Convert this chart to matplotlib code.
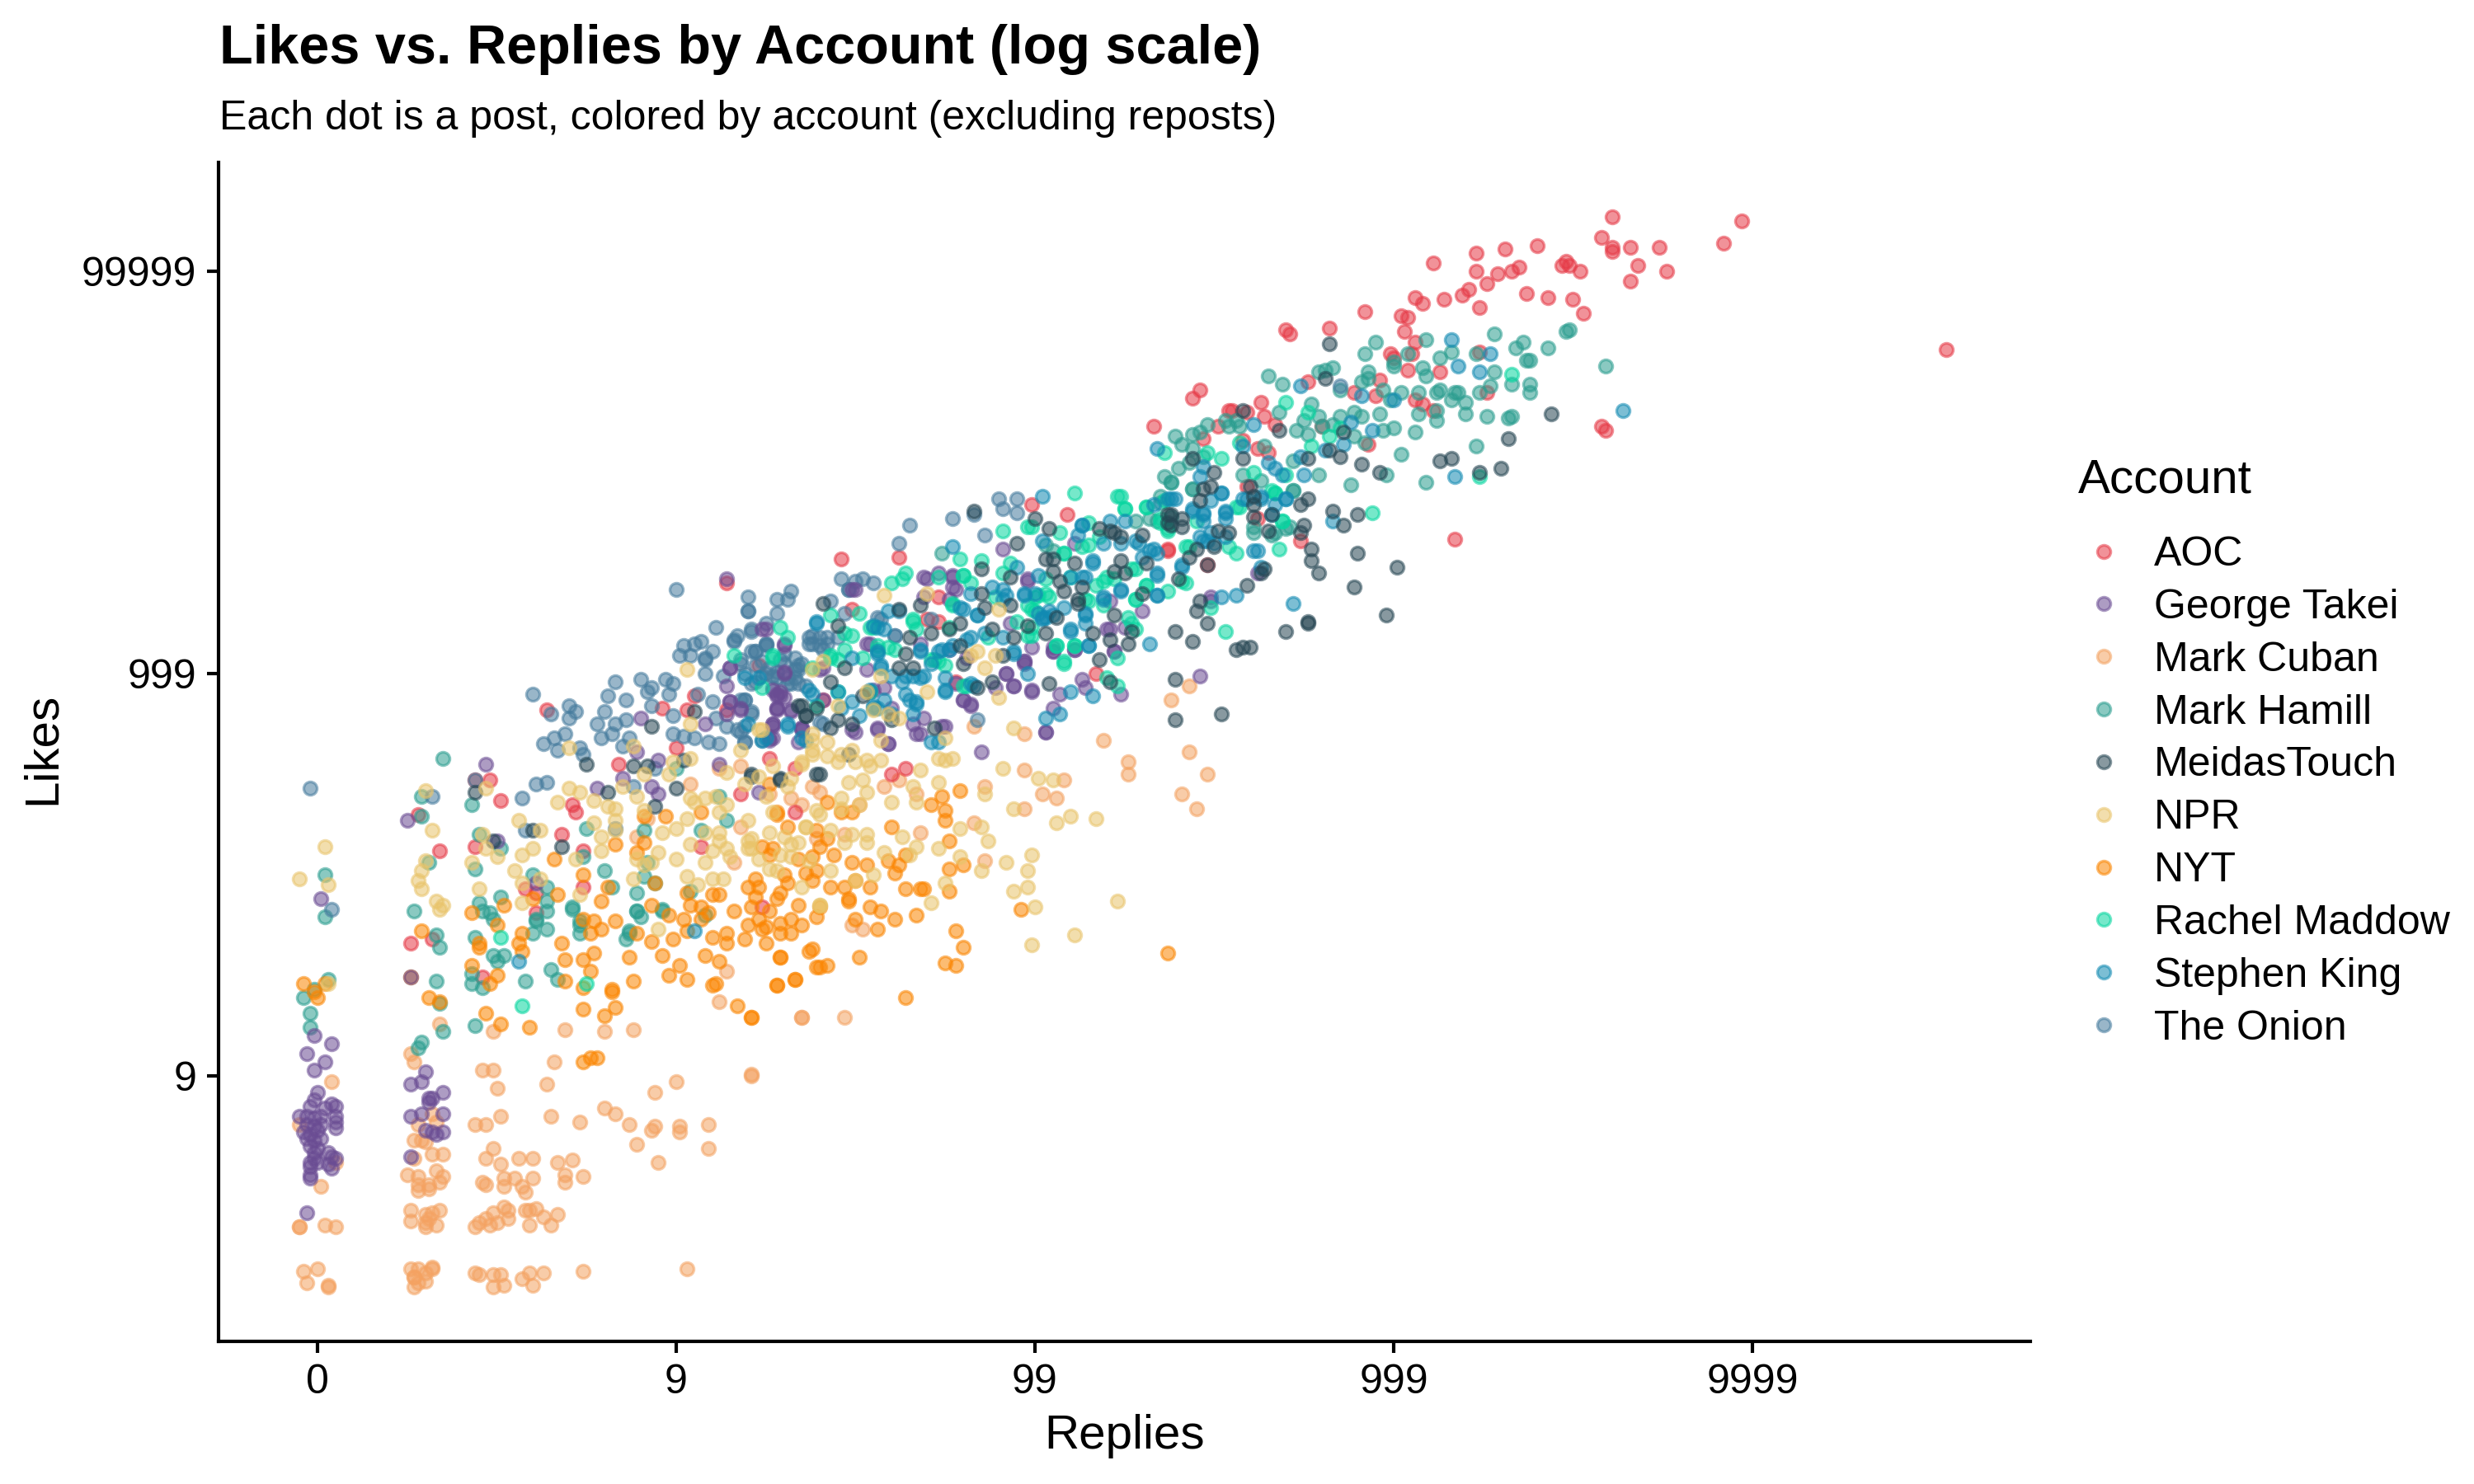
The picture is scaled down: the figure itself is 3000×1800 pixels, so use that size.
import numpy as np
import matplotlib
matplotlib.use('Agg')
import matplotlib.pyplot as plt
from matplotlib.lines import Line2D

plt.rcParams['font.family'] = ['Liberation Sans', 'DejaVu Sans']

# every point is (log10(replies + 1), log10(likes + 1))
aoc = [(3.61,5.27),(3.97,5.25),(3.58,5.17),(3.61,5.12),(3.61,5.10),(3.66,5.12),(3.74,5.12),(3.92,5.14),(3.68,5.03),(3.76,5.0),
       (3.66,4.95),(3.52,5.0),(3.49,5.03),(3.48,5.05),(3.50,4.86),(3.53,4.79),(4.54,4.61),(3.58,4.23),(3.59,4.21),
       (3.11,5.04),(3.23,5.09),(3.31,5.11),(3.40,5.13),(3.23,5.0),(3.29,4.99),(3.33,5.0),(3.35,5.02),(3.06,4.87),(3.08,4.84),(3.14,4.86),
       (3.21,4.91),(3.19,4.88),(3.26,4.94),(2.92,4.80),(3.02,4.78),(3.04,4.77),(3.03,4.70),(3.24,4.82),(3.37,4.89),(3.43,4.87),(3.47,5.03),
       (2.70,4.71),(2.71,4.69),(2.82,4.72),(2.46,4.41),(2.44,4.37),(3.06,4.65),(2.99,4.59),(3.0,4.57),(3.05,4.59),(3.04,4.51),(3.24,4.60),
       (2.76,4.45),(2.96,4.46),(2.95,4.38),(2.89,4.40),(3.06,4.36),(3.08,4.34),(3.11,4.31),(3.13,4.50),(3.26,4.40),(2.54,4.31),(2.55,4.31),
       (2.59,4.30),(2.63,4.35),(2.64,4.28),(2.51,4.23),(2.47,4.17),(2.67,4.24),(2.58,4.16),(2.62,4.12),(2.65,4.10),(2.33,4.23),(2.80,4.23),
       (2.93,4.14),(2.59,3.93),(2.62,3.77),(2.74,3.66),(2.37,3.62),(2.48,3.54),(3.17,3.67),(1.46,3.57),(1.62,3.58),(1.99,3.84),(2.09,3.79),
       (2.37,3.61),(1.73,3.38),(1.70,3.27),(1.73,3.26),(1.49,3.32),(1.23,3.04),(1.41,2.87),(1.26,2.58),(1.33,2.53),(1.60,2.50),(1.64,2.53),
       (2.17,3.0),(1.78,2.96),(1.33,2.31),(1.14,3.45),(0.64,2.82),(0.96,2.83),(1.03,2.82),(1.05,2.89),(1.14,2.82),(1.0,2.63),(0.84,2.55),
       (0.44,2.47),(0.48,2.47),(0.51,2.37),(0.71,2.35),(0.72,2.31),(0.28,2.30),(0.68,2.20),(0.44,2.14),(0.34,2.12),(0.74,2.12),(1.07,2.14),
       (1.18,2.40),(0.74,1.94),(0.58,1.93),(0.61,1.91),(0.61,1.81),(0.26,1.66),(0.32,1.68),(0.46,1.49),(1.24,1.84)]

takei = [(0.00,0.92),(-0.01,0.88),(-0.02,0.85),(0.04,0.86),(0.05,0.85),(0.02,0.84),(-0.05,0.80),(-0.03,0.80),(-0.01,0.79),(0.01,0.80),
         (0.05,0.80),(0.05,0.77),(-0.03,0.76),(-0.01,0.75),(0.01,0.76),(0.05,0.74),(-0.04,0.72),(-0.02,0.71),(0.0,0.73),(-0.03,0.69),
         (-0.01,0.68),(0.01,0.69),(-0.02,0.65),(0.0,0.64),(-0.01,0.62),(0.03,0.62),(0.04,0.60),(0.05,0.59),(-0.01,0.59),(-0.02,0.57),
         (0.0,0.57),(0.03,0.56),(0.04,0.54),(-0.02,0.55),(-0.02,0.51),(-0.02,0.49),(-0.03,0.32),
         (-0.01,1.20),(0.04,1.16),(-0.03,1.11),(0.02,1.07),(-0.01,1.03),(0.30,1.02),(0.29,0.97),(0.26,0.96),(0.35,0.92),(0.31,0.89),
         (0.32,0.89),(0.31,0.87),(0.26,0.80),(0.29,0.81),(0.35,0.81),(0.30,0.73),(0.32,0.72),(0.35,0.72),(0.33,0.71),(0.26,0.60),
         (0.26,1.49),(1.14,3.47),(2.46,2.99),(2.49,3.38),(2.30,3.31),(2.20,3.22),(2.25,3.23),(2.22,3.11),(2.05,3.11),(2.11,3.12),
         (1.99,2.91),(2.07,2.90),(2.13,2.97),(2.14,2.93),(2.24,2.90),(2.05,2.83),(2.03,2.71),(1.85,2.61),(1.97,3.06),(1.92,3.0),(1.94,2.94),
         (1.91,3.62),(1.98,3.47),(2.11,3.65),(2.21,3.36),(1.73,3.50),(1.77,3.49),(1.69,3.48),(1.78,3.42),(1.49,3.42),(1.80,2.87),(1.82,2.84),
         (1.78,2.95),(1.75,2.74),(1.68,2.70),(1.69,2.78),(1.60,2.83),(1.56,2.73),(1.59,2.65),(1.49,2.72),(1.35,2.73),(1.27,2.68),(1.27,2.75),
         (1.30,3.15),(1.25,3.22),(1.29,2.89),(1.30,3.0),(1.28,2.83),(1.41,3.03),(1.53,3.02),(1.54,2.91),(1.58,2.93),(1.76,3.12),(1.81,3.08),
         (1.93,3.25),(1.68,3.15),(1.53,3.15),(1.89,2.93),(1.24,3.22),(1.30,3.14),(1.15,3.03),(1.14,2.94),(1.30,3.01),(1.28,2.90),(1.15,2.86),
         (1.18,2.83),(1.14,2.80),(1.28,2.83),(1.32,2.81),(0.90,2.78),(1.08,2.75),(1.27,2.75),(1.35,2.73),(1.26,2.68),(0.89,2.61),(0.95,2.57),
         (1.12,2.55),(0.85,2.48),(0.78,2.43),(0.93,2.44),(1.23,2.41),(0.95,2.40),(0.47,2.55),(0.25,2.27),(0.50,2.17),(0.01,1.88),(0.61,1.96),
         (1.29,2.91),(1.27,2.92),(1.30,2.88),
         (1.50,3.42),(1.70,3.47),(1.77,3.48),(1.77,3.43),(1.69,3.38),(1.76,3.37),(1.54,3.15),(1.98,3.46),(1.99,3.13),(1.97,3.06),(1.92,3.0),
         (1.94,2.94),(1.99,2.92),(1.80,2.87),(1.82,2.85),(1.56,2.72),(1.50,2.71),(1.35,2.72),(1.34,2.66),(1.59,2.65),(1.67,2.70),(1.74,2.74),
         (1.66,2.75),(2.03,2.71),(1.55,2.92),(1.41,2.87),(1.28,2.89),(1.32,2.82),(1.27,2.74),(1.18,2.82),(1.28,2.82),(1.15,2.86),(1.15,3.03),
         (1.26,2.67),(2.05,3.13),(1.40,3.02),(2.62,3.50),(2.22,3.11),(2.21,3.22),(2.05,3.11),(2.11,3.12),(1.97,3.05),(2.49,3.36)]

cuban = [(-0.04,0.03),(0.0,0.04),(-0.03,-0.03),(0.03,-0.04),(0.03,-0.05),(0.26,0.04),(0.28,0.04),(0.32,0.05),(0.32,0.04),(0.27,0.0),
         (0.30,-0.02),(0.28,-0.03),(0.27,-0.05),(0.30,0.02),(0.27,0.0),(0.44,0.02),(0.45,0.01),(0.49,0.01),(0.51,0.01),(0.52,-0.04),(0.49,-0.05),
         (0.57,-0.01),(0.59,0.02),(0.60,-0.04),(0.63,0.02),(0.74,0.03),(1.03,0.04),(-0.05,0.25),(-0.05,0.25),(0.02,0.26),(0.05,0.25),
         (0.26,0.33),(0.26,0.28),(0.30,0.31),(0.31,0.29),(0.34,0.33),(0.30,0.25),(0.33,0.26),(0.32,0.32),(0.30,0.27),(0.44,0.25),(0.45,0.27),
         (0.47,0.29),(0.49,0.32),(0.48,0.26),(0.50,0.27),(0.52,0.35),(0.53,0.33),(0.53,0.29),(0.58,0.33),(0.59,0.33),(0.61,0.34),(0.63,0.30),
         (0.59,0.26),(0.65,0.26),(0.67,0.31),(0.01,0.45),(0.25,0.51),(0.28,0.50),(0.33,0.53),(0.35,0.50),(0.28,0.46),(0.31,0.46),(0.34,0.47),
         (0.28,0.43),(0.31,0.44),(0.46,0.47),(0.47,0.46),(0.52,0.49),(0.52,0.45),(0.55,0.49),(0.60,0.49),(0.57,0.45),(0.58,0.42),(0.69,0.47),
         (0.69,0.51),(0.74,0.50),(0.27,0.59),(0.32,0.61),(0.35,0.61),(0.27,0.68),(0.29,0.68),(0.30,0.67),(0.49,0.64),(0.47,0.59),(0.51,0.56),
         (0.56,0.59),(0.60,0.59),(0.67,0.57),(0.71,0.58),(0.89,0.66),(0.95,0.57),(1.09,0.64),(0.28,0.76),(0.33,0.77),(0.32,0.81),(0.44,0.76),
         (0.47,0.76),(0.51,0.80),(0.65,0.80),(0.73,0.77),(0.80,0.84),(0.83,0.81),(0.87,0.76),(0.93,0.73),(0.94,0.75),(1.01,0.75),(1.01,0.72),
         (1.09,0.76),(0.04,0.97),(0.46,1.03),(0.49,1.03),(0.50,0.94),(0.64,0.96),(0.66,1.07),(0.94,0.92),(1.0,0.97),(1.21,1.0),(0.26,1.11),
         (0.27,1.07),(0.34,1.26),(0.49,1.22),(0.69,1.23),(0.80,1.22),(0.88,1.23),(1.35,1.29),(1.12,1.37),(1.14,1.52),(-0.05,0.76),(0.05,0.57),
         (2.43,2.94),(2.38,2.87),(2.19,2.67),(2.43,2.61),(2.26,2.56),(2.26,2.50),(2.48,2.50),(2.41,2.40),(2.45,2.33),(1.97,2.52),(1.86,2.44),
         (2.02,2.40),(2.06,2.38),(2.08,2.47),(1.97,2.33),(1.97,2.70),(1.83,2.74),(1.58,2.44),(1.62,2.47),(1.67,2.40),(1.38,2.44),(1.40,2.41),
         (1.32,2.38),(1.51,2.35),(1.35,2.35),(1.68,2.21),(1.83,2.26),(1.86,2.07),(1.49,1.75),(1.52,1.73),(1.35,1.29),(1.47,1.29),(1.21,1.01),
         (1.47,2.20),(1.39,2.18),(1.04,2.45),(1.18,2.54),(1.12,2.53),(1.26,2.40),(1.18,2.24),(0.92,2.28),(0.89,2.19),(1.16,2.06)]

hamill = [(0.02,1.79),(-0.04,1.39),(-0.02,1.31),(-0.02,1.24),(0.03,1.48),(-0.01,1.43),(0.27,1.82),(0.33,1.70),(0.34,1.64),(0.33,1.47),
          (0.34,1.36),(0.35,1.22),(0.29,1.17),(0.28,1.14),(0.44,1.69),(0.46,1.82),(0.49,1.78),(0.49,1.60),(0.50,1.57),(0.52,1.60),(0.43,1.51),
          (0.43,1.46),(0.46,1.44),(0.44,1.25),(0.58,1.47),(0.60,1.71),(0.64,1.73),(0.65,1.53),(0.67,1.48),(0.61,1.78),(0.64,1.82),(0.71,1.83),
          (0.73,1.77),(0.73,1.71),(0.87,1.71),(0.86,1.68),(0.89,1.82),(0.90,1.79),(0.96,1.82),(0.35,2.58),(0.29,2.39),(0.29,2.29),(0.43,2.35),
          (0.45,2.20),(0.51,2.13),(0.31,2.06),(0.44,2.03),(0.02,2.0),(0.60,2.0),(0.64,1.94),(0.51,1.89),(0.45,1.86),
          (0.64,1.87),(0.48,1.81),(0.61,1.77),(0.71,1.84),(0.73,1.75),(0.80,2.02),(0.75,2.23),(0.74,2.09),(0.91,2.22),
          (0.89,1.91),(0.94,1.96),(0.96,1.83),(0.89,1.82),(0.92,2.06),(0.91,1.99),(0.82,1.94),(1.04,1.92),(1.08,1.80),(1.07,2.22),
          (1.14,2.27),(1.12,2.39),(1.0,2.53),(0.87,1.72),
          (2.95,4.65),(2.92,4.59),(3.09,4.66),(3.28,4.69),(3.36,4.65),(3.34,4.62),(3.43,4.62),(3.48,4.70),(3.59,4.53),(3.49,4.71),(3.37,4.56),
          (3.38,4.56),(3.23,4.59),(3.16,4.60),(3.13,4.57),(3.04,4.59),(3.0,4.55),(3.0,4.53),(3.08,4.52),(3.09,4.48),(3.33,4.44),(3.38,4.44),
          (3.38,4.40),(3.28,4.50),(3.24,4.40),(3.27,4.43),(2.79,4.50),(2.81,4.51),(2.83,4.52),(2.93,4.50),(2.93,4.47),(2.91,4.45),(2.65,4.48),
          (2.69,4.44),(2.85,4.41),(2.97,4.41),(2.99,4.36),(3.02,4.40),(3.07,4.40),(3.12,4.40),(3.13,4.41),(3.17,4.40),(3.18,4.40),(3.16,4.36),
          (3.20,4.35),(3.12,4.31),(3.12,4.26),(3.07,4.29),(3.20,4.29),(3.26,4.28),(3.32,4.27),(3.33,4.28),(3.06,4.20),(3.0,4.22),(2.97,4.21),
          (3.02,4.09),(3.23,4.13),(3.09,3.95),(2.98,3.99),(2.88,3.94),(2.79,3.99),(2.72,4.06),(2.77,4.34),(2.68,4.30),(2.75,4.26),(2.79,4.28),
          (2.89,4.30),(2.91,4.28),(2.96,4.29),(2.80,4.23),(2.83,4.24),(2.73,4.21),(2.76,4.19),(2.85,4.28),(2.92,4.15),(2.89,4.18),(2.39,4.18),
          (2.44,4.19),(2.46,4.20),(2.48,4.24),(2.53,4.26),(2.54,4.23),(2.57,4.23),(2.56,4.26),(2.41,4.14),(2.44,4.12),(2.64,4.13),(2.40,4.02),
          (2.43,4.05),(2.47,4.08),(2.36,3.98),(2.38,3.95),(2.58,3.99),(2.44,3.92),(2.63,3.96),(2.72,3.91),(2.35,3.85),(2.61,3.73),(2.67,3.70),
          (2.71,3.73),(1.74,3.60),(2.34,3.76),(2.38,3.78),(2.05,3.61),(2.28,3.76),(2.32,3.77),(2.38,3.95),(2.35,3.88),(2.44,3.92),(2.72,3.91),
          (2.61,3.70),(2.66,3.69),(2.70,3.72),(2.03,3.64)]

meidas = [(2.82,4.64),(2.81,4.47),(2.58,4.31),(2.68,4.21),(2.86,4.20),(3.44,4.29),(3.32,4.17),(3.13,4.06),(3.16,4.07),(3.30,4.02),(3.24,4.0),
          (2.96,4.0),(2.91,4.04),(2.82,4.11),(2.85,4.08),(2.76,4.07),(2.58,4.07),(2.44,4.07),(2.50,4.0),(2.49,3.93),(2.47,3.92),(2.46,3.86),
          (2.60,3.93),(2.61,3.84),(2.76,3.87),(2.74,3.84),(2.66,3.79),(2.61,3.78),(2.38,3.79),(2.41,3.77),(2.41,3.73),(2.38,3.74),(2.83,3.81),
          (2.90,3.79),(2.86,3.74),(2.75,3.74),(2.74,3.70),(2.65,3.71),(2.54,3.70),(2.51,3.71),(2.77,3.62),(2.77,3.56),(2.79,3.50),(2.90,3.60),
          (3.01,3.53),(2.89,3.43),(2.98,3.29),(2.76,3.26),(2.76,3.25),(2.70,3.21),(2.60,3.13),(2.58,3.13),(2.56,3.12),(2.44,3.16),(2.39,3.21),
          (2.48,3.25),(2.45,3.31),(2.46,3.36),(2.59,3.44),(2.64,3.52),(2.40,3.47),(2.50,3.63),(2.45,3.62),(2.43,3.58),(2.48,3.54),
          (1.83,3.81),(2.0,3.77),(2.04,3.72),(1.95,3.65),(2.18,3.72),(2.22,3.70),(2.24,3.68),(2.21,3.71),(2.30,3.69),(2.37,3.79),(2.37,3.75),
          (2.31,3.55),(2.24,3.56),(2.22,3.51),(2.25,3.50),
          (2.30,3.40),(2.22,3.29),(2.27,3.21),(2.26,3.15),(2.21,3.17),(2.16,3.20),
          (2.18,3.07),(2.39,2.97),(2.39,2.77),(2.52,2.80),(2.21,2.96),(2.04,2.95),(2.03,3.57),(2.05,3.57),(2.05,3.51),(2.07,3.46),(2.08,3.41),
          (2.11,3.55),(2.13,3.43),(2.12,3.37),(2.12,3.35),(2.06,3.28),(2.03,3.20),(1.98,3.24),(1.94,3.18),(1.93,3.48),(1.85,3.40),(1.86,3.33),
          (1.93,3.34),(1.85,3.52),(1.79,3.25),(1.76,3.22),(1.71,3.20),(1.65,3.18),(1.64,3.10),(1.62,3.03),(1.66,3.03),(1.79,3.14),(1.80,3.05),
          (1.88,3.22),(1.91,3.09),(1.88,2.96),(1.84,2.93),(1.68,3.34),(1.62,3.32),(1.45,3.24),(1.41,3.35),(1.47,3.03),(1.43,2.96),(1.52,2.89),
          (1.35,2.84),(1.39,2.83),(1.36,2.79),(1.43,2.73),(1.45,2.77),(1.49,2.75),(1.60,2.77),(1.72,2.73),(1.40,2.50),(1.29,2.47),(1.21,2.50),
          (1.48,2.60),(0.75,2.55),(0.92,2.54),(0.88,2.54),(1.02,2.57),(0.81,2.41),(0.94,2.34),(1.0,2.43),(0.93,2.74),(1.05,2.81),(1.34,2.84),
          (1.36,2.79),(1.29,2.48),(1.21,2.49),(1.39,2.50),(0.44,2.41),(0.60,2.22),(0.49,2.17),(0.68,2.14),(2.63,3.50),(2.61,3.88)]

npr = [(0.02,2.14),(-0.05,1.98),(0.03,1.95),(0.30,2.42),(0.32,2.22),(0.30,2.07),(0.29,2.02),(0.28,1.97),(0.29,1.93),(0.33,1.87),(0.34,1.83),
       (0.43,2.06),(0.45,1.93),(0.47,2.43),(0.46,2.20),(0.47,2.13),(0.50,2.09),(0.56,2.27),(0.62,2.22),(0.57,2.10),(0.60,2.13),(0.55,2.02),
       (0.62,1.98),(0.57,1.96),(0.57,1.86),(0.70,2.63),(0.70,2.43),(0.73,2.41),(0.67,2.36),(0.77,2.37),(0.81,2.34),(0.83,2.33),(0.77,2.26),
       (0.83,2.27),(0.83,2.22),(0.79,2.12),(0.79,2.19),(0.72,2.08),(0.73,1.90),(0.88,2.64),(0.89,2.39),(0.91,2.32),(0.91,2.50),(0.98,2.50),
       (0.85,2.44),(0.99,2.56),(1.04,2.58),(1.03,3.02),(1.04,2.75),(0.96,2.21),(1.0,2.23),(1.03,2.28),(1.04,2.38),(1.04,2.15),(0.95,2.11),
       (1.0,2.08),(0.93,2.06),(0.91,2.05),(0.89,2.08),(0.88,1.98),(1.03,1.99),(1.08,2.06),(1.10,2.12),(1.10,1.98),(1.13,1.98),(1.15,2.09),
       (1.20,2.17),(1.20,2.13),(1.26,2.21),(1.24,2.72),(1.18,2.62),(1.27,2.54),(1.14,2.51),(1.23,2.49),(1.19,2.45),(1.31,2.44),(1.32,2.48),
       (1.35,2.55),(1.38,2.60),(1.38,3.02),(1.11,2.39),(1.08,2.38),(1.05,2.36),(1.12,2.31),(1.14,2.35),(1.08,2.21),(1.12,2.21),(1.12,2.17),
       (1.14,2.13),(1.20,2.27),(1.36,2.24),(1.30,2.19),(1.32,2.15),(1.26,2.03),(1.28,2.02),(1.35,1.94),(0.95,1.73),(1.32,2.09),(1.40,1.85),
       (1.38,2.67),(1.06,1.95),(0.03,1.46),(0.35,1.85),
       (1.58,3.39),(1.70,3.40),(1.41,3.06),(1.57,2.99),(1.53,2.91),(1.45,2.84),(1.90,3.32),(1.82,3.09),(1.84,3.11),(1.89,3.09),(1.86,3.03),
       (1.70,2.91),(1.90,2.88),(1.94,2.73),(1.75,2.68),(1.55,2.82),(1.59,2.80),(1.62,2.78),(1.57,2.67),(1.38,2.70),(1.42,2.66),(1.23,2.72),
       (1.49,2.62),(1.38,2.62),(1.42,2.59),(1.46,2.60),(1.45,2.56),(1.35,2.56),(1.50,2.56),(1.53,2.57),(1.54,2.54),(1.57,2.57),(1.68,2.52),
       (1.73,2.58),(1.75,2.57),(1.77,2.58),(1.91,2.53),(2.01,2.48),(2.05,2.47),(1.48,2.46),(1.52,2.47),(1.53,2.41),(1.73,2.46),(1.66,2.44),
       (1.25,2.39),(1.46,2.38),(1.60,2.36),(1.67,2.36),(1.86,2.40),(1.94,2.33),(2.06,2.26),(2.10,2.29),
       (2.17,2.28),(1.46,2.33),(1.39,2.32),(1.51,2.35),(1.36,2.24),(1.21,2.18),(1.21,2.13),
       (1.43,2.22),(1.49,2.20),(1.53,2.20),(1.53,2.16),(1.47,2.16),(1.63,2.19),(1.67,2.14),(1.58,2.11),(1.65,2.10),(1.73,2.13),(1.79,2.23),
       (1.85,2.24),(1.87,2.17),(1.79,2.09),(1.85,2.02),(1.92,2.06),(1.99,2.10),(1.98,2.02),(1.98,1.94),(1.94,1.92),(2.0,1.84),(2.23,1.87),
       (2.11,1.70),(1.99,1.65),(1.75,1.96),(1.71,1.86),(1.55,2.0),(1.50,1.97),(1.43,2.02),(1.34,2.16),
       (1.37,2.07),(1.40,1.85),(1.29,2.10),(1.23,2.08),(1.40,2.30),(1.27,2.31)]

nyt = [(1.79,2.42),(1.74,2.39),(1.71,2.35),(1.75,2.32),(1.75,2.27),(1.60,2.24),(1.76,2.17),(1.39,2.22),(1.42,2.36),(1.46,2.31),(1.49,2.31),
       (1.28,2.30),(1.31,2.24),(1.40,2.14),(1.24,2.14),(1.27,2.13),(1.26,2.10),(1.42,2.18),(1.44,2.10),(1.49,2.06),(1.53,2.05),(1.38,2.09),
       (1.34,2.08),(1.59,2.07),(1.62,2.05),(1.61,2.01),(1.64,2.10),(1.76,2.03),(1.80,2.05),(1.36,2.01),(1.39,2.02),(1.30,2.0),(1.31,1.96),
       (1.38,1.97),(1.43,1.94),(1.47,1.94),(1.50,1.97),(1.54,1.94),(1.64,1.93),(1.68,1.93),(1.69,1.93),(1.76,1.92),(1.20,1.94),(1.23,1.94),
       (1.22,1.98),(1.29,1.91),(1.28,1.88),(1.22,1.89),(1.21,1.84),(1.26,1.82),(1.34,1.85),(1.48,1.88),(1.48,1.87),(1.40,1.84),(1.54,1.84),
       (1.57,1.82),(1.61,1.78),(1.67,1.80),(1.39,1.79),(1.50,1.78),(1.32,1.78),(1.35,1.75),(1.23,1.78),(1.20,1.75),(1.24,1.73),(1.25,1.74),
       (1.29,1.76),(1.29,1.71),(1.32,1.71),(1.19,1.68),(1.25,1.66),(1.56,1.73),(1.78,1.72),(1.80,1.64),(1.96,1.83),(2.37,1.61),(1.38,1.63),
       (1.29,1.59),(1.51,1.59),(1.39,1.54),(1.42,1.55),(1.75,1.56),(1.78,1.55),(1.33,1.48),(1.28,1.45),(1.64,1.39),(1.21,1.29),(0.97,2.29),
       (0.91,2.29),(0.66,2.08),(0.74,2.0),(0.81,1.94),(0.83,2.15),(0.91,2.16),(0.89,2.11),(0.94,1.96),(0.67,1.90),(0.60,1.88),(0.52,1.85),
       (0.43,1.81),(0.79,1.87),(0.93,1.85),(0.98,1.80),(1.03,1.91),(1.04,1.85),(1.07,1.84),(1.12,1.90),(1.10,1.90),(1.16,1.82),(1.07,1.78),
       (1.09,1.81),(1.02,1.78),(1.03,1.72),(1.10,1.69),(1.14,1.71),(1.14,1.66),(0.99,1.68),(0.93,1.67),(0.89,1.71),(0.83,1.77),(0.77,1.77),(0.74,1.78),
       (0.79,1.73),(0.76,1.71),(0.68,1.66),(0.57,1.71),(0.56,1.66),(0.50,1.75),(0.29,1.72),(0.45,1.66),
       (1.26,2.45),(1.07,2.31),(1.28,2.31),(-0.04,1.46),(-0.01,1.42),(0.0,1.39),(0.02,1.46),(0.26,1.49),
       (0.31,1.39),(0.34,1.37),(0.45,1.64),(0.43,1.55),(0.50,1.50),(0.48,1.46),(0.47,1.31),(0.51,1.26),(0.59,1.24),
       (0.57,1.62),(0.69,1.47),(0.69,1.58),(0.74,1.58),(0.77,1.61),(0.76,1.52),(0.74,1.44),(0.82,1.43),(0.82,1.42),
       (0.74,1.33),(0.83,1.34),(0.80,1.30),(0.88,1.47),(0.87,1.59),(0.96,1.60),(1.01,1.55),(0.98,1.50),(1.03,1.48),(1.08,1.60),(1.12,1.57),
       (1.10,1.45),(1.11,1.46),(1.17,1.35),(1.21,1.29),(1.28,1.45),(1.33,1.48),(1.29,1.59),(1.37,1.62),(1.40,1.54),(0.74,1.07),(0.76,1.09),
       (0.78,1.09)]

maddow = [(2.53,3.21),(2.43,3.63),(2.37,3.41),(2.49,3.33),(2.42,3.45),(2.23,3.88),(1.91,3.71),(1.98,3.73),(1.85,3.56),(1.79,3.57),(1.60,3.45),
          (1.63,3.47),(1.80,3.49),(2.08,3.06),(2.23,3.08),(2.23,2.94),(2.20,2.98),(2.06,3.14),(2.11,3.14),(2.27,3.25),(2.28,3.37),(2.31,3.44),
          (2.37,3.71),(1.29,3.23),(1.31,3.18),(1.27,3.08),(1.24,2.93),(1.43,3.08),(1.49,3.19),(1.43,3.29),(1.51,3.30),(1.55,3.23),(1.45,3.07),
          (1.47,3.12),(1.52,3.08),(1.56,3.14),(1.45,2.91),(1.59,3.13),(1.66,3.26),(1.67,3.22),(1.73,3.06),(1.71,3.07),(1.75,3.04),(1.77,3.35),
          (1.81,2.94),(1.93,3.55),(1.91,3.50),(1.98,3.34),(2.01,3.39),(1.95,3.26),(1.98,3.19),(2.07,3.70),(2.08,3.60),(2.14,3.37),(2.15,3.75),
          (2.17,3.44),(2.27,3.52),(2.22,3.47),(2.18,3.68),(2.25,3.82),(2.31,3.83),(2.03,3.47),(2.10,3.48),(2.15,3.64),(2.70,4.35),(2.57,4.15),
          (2.48,4.10),(2.52,4.07),(2.36,4.10),(2.77,4.13),(2.76,4.30),(2.85,4.22),(2.82,4.18),(2.66,3.91),(2.67,3.90),(2.57,3.83),(2.69,3.76),
          (2.94,3.80),(2.54,3.63),(2.56,3.60),(2.68,3.62),(2.42,3.63),(2.41,3.46),(3.24,3.98),(3.33,4.49),
          (2.35,3.77),(2.37,3.72),(2.45,3.76),(2.70,3.99),(2.61,4.0),(2.36,3.86),(1.16,3.09),(1.27,3.09),
          (1.38,3.03),(0.51,1.69),(0.57,1.35),(0.75,1.46),(1.39,2.84),
          (1.64,3.50),(1.73,3.48),(1.80,3.49),(1.82,3.45),(1.54,3.23),(1.66,3.27),(1.76,3.23),(1.77,3.34),(1.47,3.20),(1.43,3.09),(1.56,3.12),
          (1.61,3.12),(1.72,3.07),(1.89,3.38),(1.99,3.32),(2.03,3.40),(1.99,3.19),(1.87,3.18),(1.80,2.94),(1.54,2.91),(1.99,3.73),(2.24,3.88),
          (2.31,3.83),(2.25,3.82),(2.11,3.90),(2.08,3.60),(2.13,3.63),(2.19,3.46),(2.20,3.48),(2.28,3.52),(2.31,3.44),(2.28,3.37),(2.19,3.34),
          (2.15,3.36),(2.04,3.38),(2.0,3.38),(2.0,3.31),(2.26,3.28),(2.28,3.22),(2.06,3.14),(2.11,3.14),(2.08,3.05),(1.99,3.23),(2.35,3.75),
          (2.56,3.83),(2.69,3.76),(2.67,3.90)]

king = [(3.16,4.66),(3.18,4.53),(3.27,4.59),(3.24,4.50),(3.64,4.31),(2.61,4.24),(2.74,4.43),(2.91,4.38),(3.0,4.36),(2.94,4.21),(2.88,4.25),
        (2.86,4.14),(3.17,3.98),(2.75,3.99),(2.81,4.11),(2.74,4.08),(2.58,4.13),(2.65,4.05),(2.69,3.99),(2.67,4.02),(2.47,4.03),(2.46,3.98),
        (2.52,3.90),(2.63,3.88),(2.59,3.87),(2.70,3.87),(2.67,3.84),(2.53,3.80),(2.53,3.77),(2.44,3.81),(2.47,3.80),(2.47,3.76),(2.49,3.86),
        (2.66,3.79),(2.37,3.87),(2.83,3.76),(2.46,3.68),(2.49,3.70),(2.47,3.66),(2.61,3.61),(2.34,3.60),(2.41,3.53),(2.63,3.53),(2.34,3.49),
        (2.34,3.39),(2.52,3.38),(2.56,3.39),(2.72,3.35),(2.34,4.12),(2.02,3.88),(2.38,3.87),(2.33,3.84),(2.21,3.76),(2.25,3.76),(2.13,3.74),
        (2.12,3.69),(2.19,3.65),(2.24,3.65),(2.28,3.66),(2.33,3.62),(2.30,3.58),(2.41,3.54),(2.34,3.50),(2.24,3.42),
        (2.19,3.37),(2.14,3.30),(2.14,3.25),(2.10,3.22),(2.15,3.14),(2.32,3.15),(2.16,3.56),(2.13,3.48),(2.02,3.66),(1.77,3.63),
        (1.95,3.53),(2.01,3.49),(1.97,3.40),(1.91,3.42),(1.82,3.40),(1.88,3.43),(2.0,3.40),(2.04,3.31),(2.02,3.28),(1.84,3.29),(1.79,3.33),
        (1.62,3.31),(1.58,3.22),(1.56,3.23),(1.39,3.26),(1.68,3.11),(1.73,3.11),(1.76,3.12),(1.82,3.18),(1.91,3.18),(1.94,3.11),(1.56,3.11),
        (1.49,3.08),(1.57,3.03),(1.64,2.99),(1.68,2.98),(1.75,2.91),(1.83,2.94),(1.64,2.90),(1.67,2.85),(1.66,2.80),(1.45,2.91),(1.38,2.90),
        (1.49,2.86),(1.46,2.83),(1.51,2.79),(1.55,2.83),(1.98,3.0),(2.10,2.91),(2.16,2.89),(2.03,2.78),(2.07,2.80),(1.31,2.74),(1.20,2.75),
        (1.35,2.68),(1.25,2.68),(1.73,2.66),(1.19,2.98),(1.39,3.25),(1.37,2.92),(1.36,2.67),(1.05,1.72),(0.56,1.57),
        (1.55,3.24),(1.59,3.31),(1.56,3.10),(1.57,3.04),(1.68,3.12),(1.71,3.05),(1.74,3.12),(1.77,3.14),(1.81,3.17),(1.84,3.29),(1.86,3.20),
        (1.80,3.32),(1.91,3.37),(1.97,3.39),(2.03,3.28),(2.05,3.29),(1.94,3.10),(1.60,2.99),(1.63,2.96),(1.66,2.99),(1.69,2.99),(1.65,2.87),
        (1.67,2.86),(1.75,2.92),(1.75,2.98),(1.82,2.95),(1.54,2.92),(1.58,2.87),(1.60,2.80),(1.55,2.84),(1.23,2.98),(1.24,2.67),(1.31,2.75),
        (1.56,2.83),(1.71,2.66),(2.16,3.55),(2.14,3.48),(2.10,3.48),(2.13,3.74),(2.29,3.65),(2.32,3.61),(2.34,3.39),(2.62,3.61),(2.15,3.14),
        (2.10,3.21),(2.14,3.29),(2.24,3.41),(2.19,3.38),(1.92,3.39),(2.53,3.68),(2.44,3.82),(2.47,3.79),(2.53,3.81),(2.39,3.87),(2.52,3.90),
        (2.70,3.87),(2.58,3.87),(2.63,3.87),(2.48,3.66),(2.50,3.65),(2.01,3.30),(2.08,3.33),(2.02,3.27)]

onion = [(-0.02,2.43),(0.04,1.83),(0.32,2.39),(0.44,2.47),(0.57,2.38),(0.61,2.45),(0.64,2.46),(0.58,2.22),(1.0,3.42),(1.20,3.38),(1.32,3.41),
         (1.28,3.37),(1.11,3.23),(1.02,3.14),(1.05,3.15),(1.07,3.16),(1.10,3.11),(1.01,3.09),(1.04,3.09),(1.08,3.08),(1.16,3.16),(1.17,3.19),
         (1.21,3.21),(1.25,3.15),(1.37,3.18),(1.37,3.15),(1.13,2.99),(1.08,3.0),(1.19,3.0),(1.22,3.11),(1.34,3.02),(1.26,3.03),(1.31,2.95),
         (1.24,2.99),(1.22,2.96),(0.90,2.97),(0.83,2.96),(0.97,2.97),(0.99,2.95),(0.93,2.93),(0.92,2.91),(0.98,2.90),(0.60,2.90),(0.81,2.89),
         (0.86,2.87),(0.70,2.84),(0.72,2.81),(0.70,2.78),(0.65,2.80),(0.80,2.81),(0.78,2.75),(0.83,2.75),(0.86,2.77),(0.82,2.70),(0.79,2.68),
         (0.69,2.70),(0.66,2.68),(0.63,2.65),(0.67,2.62),(0.73,2.63),(0.74,2.60),(0.85,2.64),(0.87,2.68),(0.93,2.84),(0.99,2.79),(0.99,2.70),
         (1.02,2.69),(1.05,2.68),(1.09,2.66),(1.12,2.65),(1.10,2.86),(1.06,2.90),(1.11,2.78),(1.14,2.74),(1.18,2.71),(1.19,2.66),(1.19,2.87),
         (1.21,2.80),(0.88,2.44),(0.83,2.23),(0.94,2.53),(1.08,3.07),(1.28,3.01),(1.33,2.98),
         (1.91,3.82),(1.95,3.80),(1.90,3.87),(1.95,3.87),(1.77,3.77),(1.83,3.79),(1.65,3.74),(1.62,3.65),(1.86,3.69),(1.46,3.47),(1.52,3.47),
         (1.55,3.45),(1.48,3.42),(1.31,3.37),(1.43,3.36),(1.20,3.31),(1.28,3.30),(1.25,3.25),(1.21,3.22),(1.38,3.19),(1.42,3.18),(1.38,3.15),
         (1.42,3.15),(1.25,3.15),(1.22,3.11),(1.18,3.07),(1.29,3.07),(1.35,3.05),(1.33,3.02),(1.27,2.99),(1.32,2.95),(1.36,2.94),(1.27,2.93),
         (1.19,2.87),(1.21,2.81),(1.40,2.76),(1.84,2.77),(1.61,3.19),(1.56,3.28),(1.71,3.27),(2.85,4.43),
         (1.25,3.14),(1.16,3.17),(1.40,3.18),(1.40,3.14),(1.45,3.18),(1.21,3.11),(1.22,3.04),(1.25,3.0),(1.31,2.98),(1.34,3.04),(1.34,2.95),
         (1.28,2.98),(1.21,2.95),(1.18,3.05),(1.18,2.87),(1.19,2.74),(1.17,2.72),(1.24,2.67),(1.19,2.66),(1.41,2.75),(1.48,3.42),(1.50,3.46),
         (1.47,3.30),(1.57,3.27),(1.61,3.19),(1.41,3.12),(1.20,3.31),(1.30,3.10),(1.24,3.06),(1.30,3.05),(1.33,3.08)]

accounts = ['AOC', 'George Takei', 'Mark Cuban', 'Mark Hamill', 'MeidasTouch', 'NPR', 'NYT', 'Rachel Maddow', 'Stephen King', 'The Onion']
colors = ['#E63946', '#6A4C93', '#F4A261', '#2A9D8F', '#264653', '#E9C46A', '#FB8500', '#06D6A0', '#118AB2', '#457B9D']
points = [aoc, takei, cuban, hamill, meidas, npr, nyt, maddow, king, onion]

# stacking order seen in the overlaps, not the legend order
draw_order = ['Mark Cuban', 'AOC', 'Mark Hamill', 'NYT', 'The Onion', 'George Takei', 'Rachel Maddow', 'Stephen King', 'MeidasTouch', 'NPR']

x_ticks = [0, 1, 2, 3, 4]
x_tick_labels = ['0', '9', '99', '999', '9999']
y_ticks = [1, 3, 5]
y_tick_labels = ['9', '999', '99999']

fig = plt.figure(figsize=(10, 6), dpi=300)
ax = fig.add_axes([265/3000, 1 - 1627/1800, (2462 - 265)/3000, (1627 - 197)/1800])

for i, name in enumerate(draw_order):
    k = accounts.index(name)
    pts = np.array(points[k])
    ax.scatter(pts[:, 0], pts[:, 1], s=15, color=colors[k], alpha=0.55, linewidths=0.8, zorder=3 + i)

ax.set_xlim(-0.276, 4.775)
ax.set_ylim(-0.32, 5.542)
ax.set_xticks(x_ticks, x_tick_labels)
ax.set_yticks(y_ticks, y_tick_labels)
ax.tick_params(length=3.4, width=1.0, labelsize=12, pad=3, color='black', labelcolor='black')
for side in ['top', 'right']:
    ax.spines[side].set_visible(False)
for side in ['left', 'bottom']:
    ax.spines[side].set_linewidth(1.0)

fig.text(266/3000, 1 - 77/1800, 'Likes vs. Replies by Account (log scale)', fontsize=16, fontweight='bold', ha='left', va='baseline')
fig.text(266/3000, 1 - 157/1800, 'Each dot is a post, colored by account (excluding reposts)', fontsize=12, ha='left', va='baseline')
fig.text((265 + 2462)/2/3000, 1 - 1742/1800, 'Replies', fontsize=14, ha='center', va='center')
fig.text(52/3000, 1 - 908/1800, 'Likes', fontsize=14, rotation=90, ha='center', va='center')
fig.text(2520/3000, 1 - 583/1800, 'Account', fontsize=14, ha='left', va='center')

handles = [Line2D([], [], linestyle='none', marker='o', markersize=3.87, markeredgewidth=0.8, color=c, alpha=0.55) for c in colors]
leg = fig.legend(handles, accounts, loc='upper left', bbox_to_anchor=(2526/3000, 1 - 650/1800),
                 frameon=False, fontsize=12, borderpad=0, borderaxespad=0,
                 labelspacing=0.357, handlelength=1.0, handletextpad=0.72)

fig.savefig('out.png', dpi=300)
